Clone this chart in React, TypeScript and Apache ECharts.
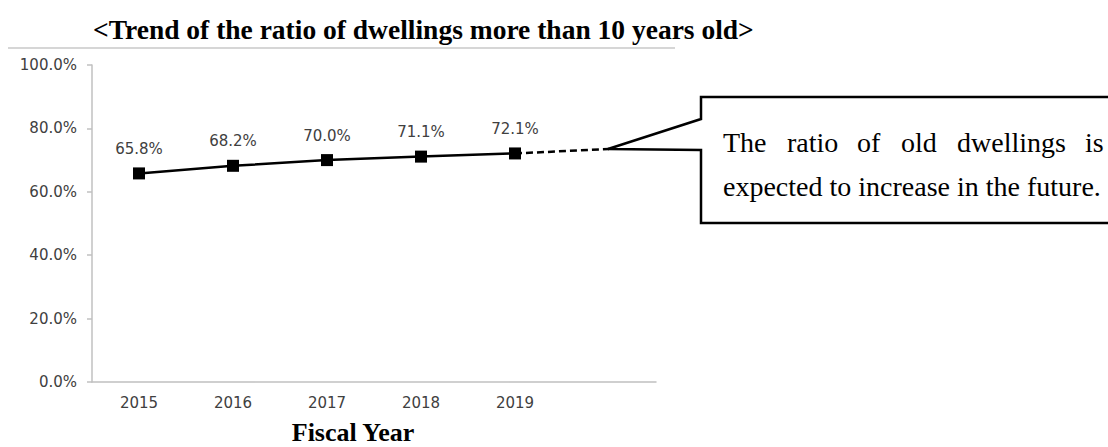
import React, { useEffect, useRef } from "react";
import * as echarts from "echarts";

const years = ["2015", "2016", "2017", "2018", "2019", ""];
const ratioValues = [65.8, 68.2, 70.0, 71.1, 72.1, null];
const projectionValues = [null, null, null, null, 72.1, 73.5];
const yTicks = { min: 0, max: 100, interval: 20 };
const titleText = "<Trend of the ratio of dwellings more than 10 years old>";
const xAxisTitle = "Fiscal Year";
const calloutLine1 = ["The", "ratio", "of", "old", "dwellings", "is"];
const calloutLine1X = [723, 787, 857, 901, 957, 1085];
const calloutLine2 = "expected to increase in the future.";

export default function App() {
  const ref = useRef<HTMLDivElement>(null);
  useEffect(() => {
    if (!ref.current) return;
    const chart = echarts.init(ref.current, null, { renderer: "svg" });
    const serif = '"Liberation Serif", "Times New Roman", serif';
    const sans = '"DejaVu Sans", Verdana, sans-serif';
    const labelColor = "#404040";
    const axisColor = "#c0c0c0";
    chart.setOption({
      animation: false,
      backgroundColor: "#ffffff",
      grid: { left: 92, right: 452, top: 65, bottom: 65, containLabel: false, outerBoundsMode: "none" },
      xAxis: {
        type: "category",
        data: years,
        boundaryGap: true,
        axisLine: { show: true, lineStyle: { color: axisColor, width: 1.5 } },
        axisTick: { show: false },
        axisLabel: { color: labelColor, fontFamily: sans, fontSize: 15, margin: 13 },
        splitLine: { show: false },
      },
      yAxis: {
        type: "value",
        min: yTicks.min,
        max: yTicks.max,
        interval: yTicks.interval,
        axisLine: { show: true, lineStyle: { color: axisColor, width: 1.5 } },
        axisTick: { show: true, length: 5, lineStyle: { color: axisColor, width: 1.5 } },
        axisLabel: {
          color: labelColor,
          fontFamily: sans,
          fontSize: 15,
          margin: 15,
          formatter: (v: number) => v.toFixed(1) + "%",
        },
        splitLine: { show: false },
      },
      series: [
        {
          type: "line",
          data: projectionValues,
          symbol: "none",
          lineStyle: { color: "#000", width: 2.5, type: [7, 4] },
          z: 2,
        },
        {
          type: "line",
          data: ratioValues,
          symbol: "rect",
          symbolSize: 12,
          itemStyle: { color: "#000" },
          lineStyle: { color: "#000", width: 2.5 },
          label: {
            show: true,
            position: "top",
            distance: 11,
            color: labelColor,
            fontFamily: sans,
            fontSize: 15,
            formatter: (p: any) => Number(p.value).toFixed(1) + "%",
          },
          z: 3,
        },
      ],
      graphic: [
        {
          type: "text",
          x: 93,
          y: 29,
          style: {
            text: titleText,
            fontFamily: serif,
            fontWeight: "bold",
            fontSize: 27.5,
            fill: "#000",
            align: "left",
            verticalAlign: "middle",
          },
        },
        {
          type: "line",
          shape: { x1: 8, y1: 48, x2: 675, y2: 48 },
          style: { stroke: "#c8c8c8", lineWidth: 1.5 },
        },
        {
          type: "polyline",
          shape: {
            points: [
              [1115, 97],
              [701, 97],
              [701, 119],
              [608, 149],
              [701, 150],
              [701, 223],
              [1115, 223],
            ],
          },
          style: { stroke: "#000", lineWidth: 2.5, fill: null },
          z: 10,
        },
        ...calloutLine1.map((w, i) => ({
          type: "text",
          x: calloutLine1X[i],
          y: 142,
          style: {
            text: w,
            fontFamily: serif,
            fontSize: 28,
            fill: "#000",
            align: "left",
            verticalAlign: "middle",
          },
        })),
        {
          type: "text",
          x: 723,
          y: 186,
          style: {
            text: calloutLine2,
            fontFamily: serif,
            fontSize: 28,
            fill: "#000",
            align: "left",
            verticalAlign: "middle",
          },
        },
        {
          type: "text",
          x: 353,
          y: 432,
          style: {
            text: xAxisTitle,
            fontFamily: serif,
            fontWeight: "bold",
            fontSize: 26,
            fill: "#000",
            align: "center",
            verticalAlign: "middle",
          },
        },
      ],
    });
    return () => chart.dispose();
  }, []);
  return (
    <div
      ref={ref}
      style={{ position: "fixed", left: 0, top: 0, width: 1108, height: 447 }}
    />
  );
}
